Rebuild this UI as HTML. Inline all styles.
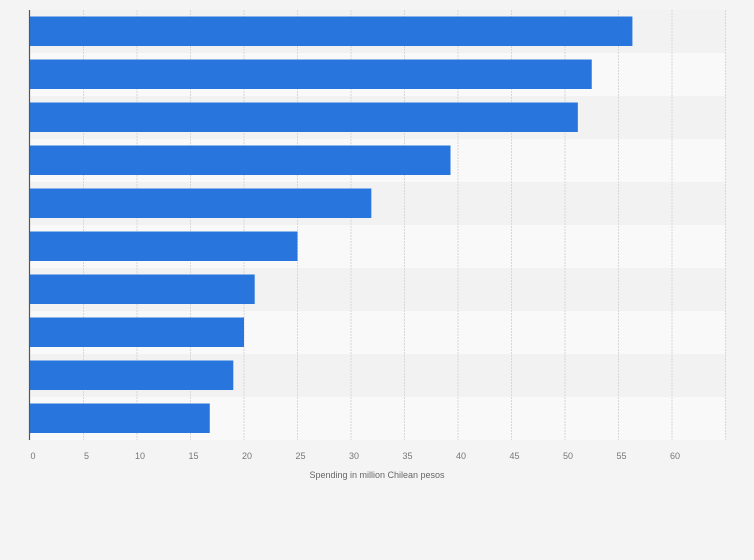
<!DOCTYPE html>
<html><head><meta charset="utf-8"><style>
body{margin:0;background:#f4f4f4;}
svg{display:block;font-family:"Liberation Sans",sans-serif;}
</style></head><body>
<svg id="chart" width="754" height="560">
<rect x="0" y="0" width="754" height="560" fill="#f4f4f4"/>
<g id="bands"></g><g id="grid"></g><g id="bars"></g><g id="ticks"></g>
<line x1="29.5" y1="10" x2="29.5" y2="440" stroke="#555" stroke-width="1.2"/>
<text x="377" y="478" text-anchor="middle" font-size="9" fill="#666">Spending in million Chilean pesos</text>
</svg>
<script>
const categories = ["Item 1","Item 2","Item 3","Item 4","Item 5","Item 6","Item 7","Item 8","Item 9","Item 10"];
const values = [56.3, 52.5, 51.2, 39.3, 31.9, 25.0, 21.0, 20.0, 19.0, 16.8];
const tickValues = [0,5,10,15,20,25,30,35,40,45,50,55,60];
const gridValues = [5,10,15,20,25,30,35,40,45,50,55,60,65];
const NS="http://www.w3.org/2000/svg";
const x0=30, unit=10.7, plotTop=10, rowH=43;
const xs=v=>x0+v*unit;
const ys=i=>plotTop+i*rowH;
function mk(tag,attrs,parent){const e=document.createElementNS(NS,tag);for(const k in attrs)e.setAttribute(k,attrs[k]);document.getElementById(parent).appendChild(e);return e;}
categories.forEach((c,i)=>{
  const b=mk('rect',{x:x0,y:ys(i),width:xs(65)-x0,height:rowH,fill:i%2?'#f9f9f9':'#f2f2f2'},'bands');
  
  
});
gridValues.forEach(v=>{
  const l=mk('line',{x1:xs(v),x2:xs(v),y1:plotTop,y2:plotTop+rowH*categories.length,stroke:'#d8d8d8','stroke-dasharray':'2,1'},'grid');
  
  
});
categories.forEach((c,i)=>{
  const r=mk('rect',{x:x0,y:ys(i)+6.5,width:xs(values[i])-x0,height:29.5,fill:'#2876dd'},'bars');
  
  
});
tickValues.forEach(v=>{
  const t=mk('text',{x:xs(v)+3,y:459,'text-anchor':'middle','font-size':'9',fill:'#777'},'ticks');
  t.textContent=v;
  
  
});
</script>
</body></html>
